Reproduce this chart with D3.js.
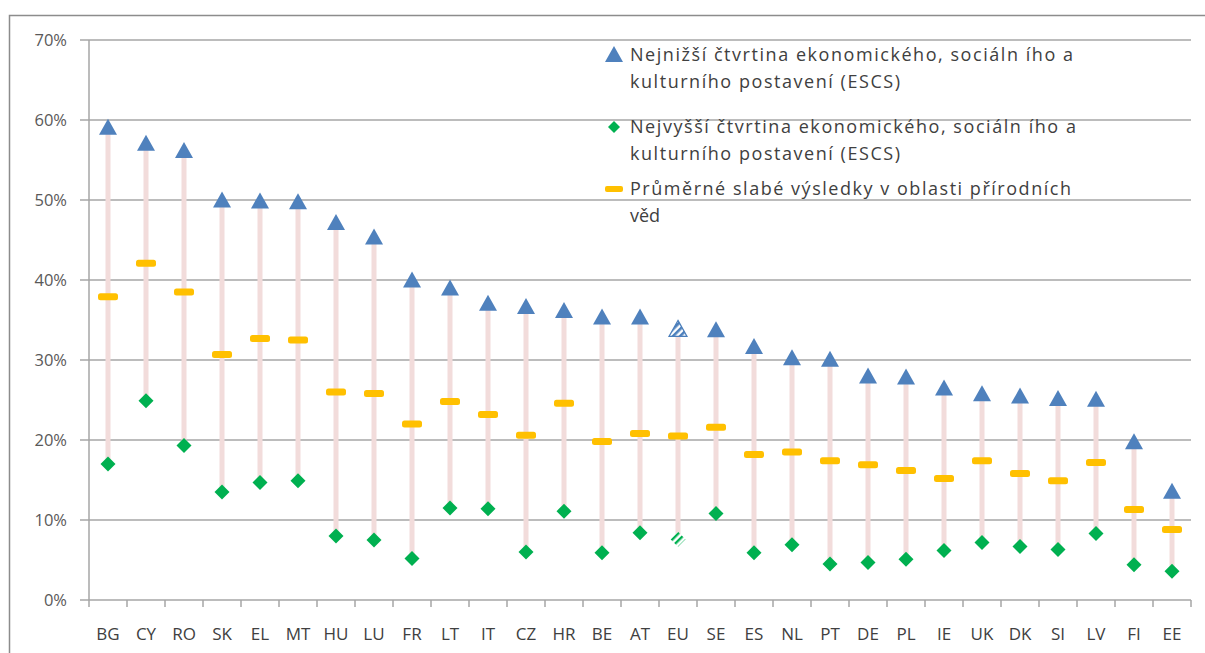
<!DOCTYPE html>
<html><head><meta charset="utf-8">
<script src="https://cdn.jsdelivr.net/npm/d3@7"></script>
<style>body{margin:0;background:#fff}svg{display:block}</style>
</head><body>
<script>
const categories = ["BG","CY","RO","SK","EL","MT","HU","LU","FR","LT","IT","CZ","HR","BE","AT","EU","SE","ES","NL","PT","DE","PL","IE","UK","DK","SI","LV","FI","EE"];
const lowestQuarter = [0.589,0.569,0.560,0.498,0.497,0.496,0.470,0.452,0.398,0.388,0.369,0.365,0.360,0.352,0.352,0.337,0.336,0.315,0.301,0.299,0.278,0.277,0.263,0.256,0.253,0.250,0.249,0.196,0.134];
const highestQuarter = [0.170,0.249,0.193,0.135,0.147,0.149,0.080,0.075,0.052,0.115,0.114,0.060,0.111,0.059,0.084,0.076,0.108,0.059,0.069,0.045,0.047,0.051,0.062,0.072,0.067,0.063,0.083,0.044,0.036];
const averageLow = [0.379,0.421,0.385,0.307,0.327,0.325,0.260,0.258,0.220,0.248,0.232,0.206,0.246,0.198,0.208,0.205,0.216,0.182,0.185,0.174,0.169,0.162,0.152,0.174,0.158,0.149,0.172,0.113,0.088];
const yTicks = [0,0.1,0.2,0.3,0.4,0.5,0.6,0.7];
const legendLabels = [
  ["Nejnižší čtvrtina ekonomického, sociáln ího a","kulturního postavení (ESCS)"],
  ["Nejvyšší čtvrtina ekonomického, sociáln ího a","kulturního postavení (ESCS)"],
  ["Průměrné slabé výsledky v oblasti přírodních","věd"]
];

const W=1205,H=653;
const svg=d3.select("body").append("svg").attr("width",W).attr("height",H);
const defs=svg.append("defs");
const pT=defs.append("pattern").attr("id","hatchBlue").attr("patternUnits","userSpaceOnUse").attr("width",5).attr("height",5).attr("patternTransform","rotate(-45)");
pT.append("rect").attr("width",5).attr("height",5).attr("fill","#fff");
pT.append("rect").attr("width",5).attr("height",2.6).attr("fill","#4a7ebb");
const pD=defs.append("pattern").attr("id","hatchGreen").attr("patternUnits","userSpaceOnUse").attr("width",5).attr("height",5).attr("patternTransform","rotate(-45)");
pD.append("rect").attr("width",5).attr("height",5).attr("fill","#fff");
pD.append("rect").attr("width",5).attr("height",2.4).attr("fill","#00b050");

// outer frame
svg.append("path").attr("d","M9.5,653 V15.5 H1205").attr("fill","none").attr("stroke","#8c8c8c").attr("stroke-width",1.5);

const x=d3.scaleBand().domain(categories).range([89,1191]);
const y=d3.scaleLinear().domain([0,0.7]).range([600,40]);

// gridlines
svg.append("g").selectAll("line").data(yTicks).join("line")
  .attr("x1",80).attr("x2",1191).attr("y1",d=>y(d)).attr("y2",d=>y(d))
  .attr("stroke","#a6a6a6").attr("stroke-width",1.5);
// y axis line
svg.append("line").attr("x1",89).attr("x2",89).attr("y1",y(0.7)).attr("y2",y(0)).attr("stroke","#a6a6a6").attr("stroke-width",1.5);
// y labels
svg.append("g").selectAll("text").data(yTicks).join("text")
  .attr("x",67).attr("y",d=>y(d)).attr("dy","0.35em").attr("text-anchor","end")
  .attr("font-family","'Open Sans','DejaVu Sans',sans-serif").attr("font-size",16.5).attr("fill","#595959")
  .text(d=>d3.format(".0%")(d));
// x ticks
const bounds=categories.map(c=>x(c)).concat([x.range()[1]]);
svg.append("g").selectAll("line").data(bounds).join("line")
  .attr("x1",d=>d).attr("x2",d=>d).attr("y1",600).attr("y2",607)
  .attr("stroke","#a6a6a6").attr("stroke-width",1.5);
svg.append("g").selectAll("text").data(categories).join("text")
  .attr("x",d=>x(d)+x.bandwidth()/2).attr("y",634).attr("dy","0.35em").attr("text-anchor","middle")
  .attr("font-family","'Open Sans','Liberation Sans',sans-serif").attr("font-size",17).attr("fill","#404040")
  .text(d=>d);

const cx=i=>x(categories[i])+x.bandwidth()/2;
// high-low lines
svg.append("g").selectAll("line").data(categories).join("line")
  .attr("x1",(d,i)=>cx(i)).attr("x2",(d,i)=>cx(i))
  .attr("y1",(d,i)=>y(lowestQuarter[i])).attr("y2",(d,i)=>y(highestQuarter[i]))
  .attr("stroke","#f2dcdb").attr("stroke-width",5);

const dia="M0,-7.5 L7.5,0 L0,7.5 L-7.5,0 Z";
// triangles
svg.append("g").selectAll("path").data(categories).join("path")
  .attr("d","M0,-9 L9,7 L-9,7 Z")
  .attr("transform",(d,i)=>`translate(${cx(i)},${y(lowestQuarter[i])-1})`)
  .attr("fill",d=>d==="EU"?"url(#hatchBlue)":"#4f81bd")
  .attr("stroke",d=>d==="EU"?"#4a7ebb":"none").attr("stroke-width",1.2);
// diamonds
svg.append("g").selectAll("path").data(categories).join("path")
  .attr("d",dia)
  .attr("transform",(d,i)=>`translate(${cx(i)},${y(highestQuarter[i])})`)
  .attr("fill",d=>d==="EU"?"url(#hatchGreen)":"#00b050");
// dashes
svg.append("g").selectAll("rect").data(categories).join("rect")
  .attr("x",(d,i)=>cx(i)-10).attr("y",(d,i)=>y(averageLow[i])-3.5)
  .attr("width",20).attr("height",7).attr("rx",2.5)
  .attr("fill","#ffc000");

// legend
const lg=svg.append("g");
const lx=614, ly=[55,127,189];
lg.append("path").attr("d","M0,-9 L9,7 L-9,7 Z").attr("transform",`translate(${lx},${ly[0]})`).attr("fill","#4f81bd");
lg.append("path").attr("d","M0,-6 L6,0 L0,6 L-6,0 Z").attr("transform",`translate(${lx},${ly[1]})`).attr("fill","#00b050");
lg.append("rect").attr("x",lx-9).attr("y",ly[2]-3).attr("width",18).attr("height",6).attr("rx",2).attr("fill","#ffc000");
const widths=[[443,270],[446,270],[441,null]];
legendLabels.forEach((lines,k)=>{
  lines.forEach((t,j)=>{
    const tx=lg.append("text").attr("x",630).attr("y",ly[k]+27*j).attr("dy","0.35em")
      .attr("font-family","'Open Sans','DejaVu Sans',sans-serif").attr("font-size",18).attr("fill","#404040")
      .text(t);
    if(widths[k][j]) tx.attr("textLength",widths[k][j]).attr("lengthAdjust","spacing");
  });
});
</script>
</body></html>
